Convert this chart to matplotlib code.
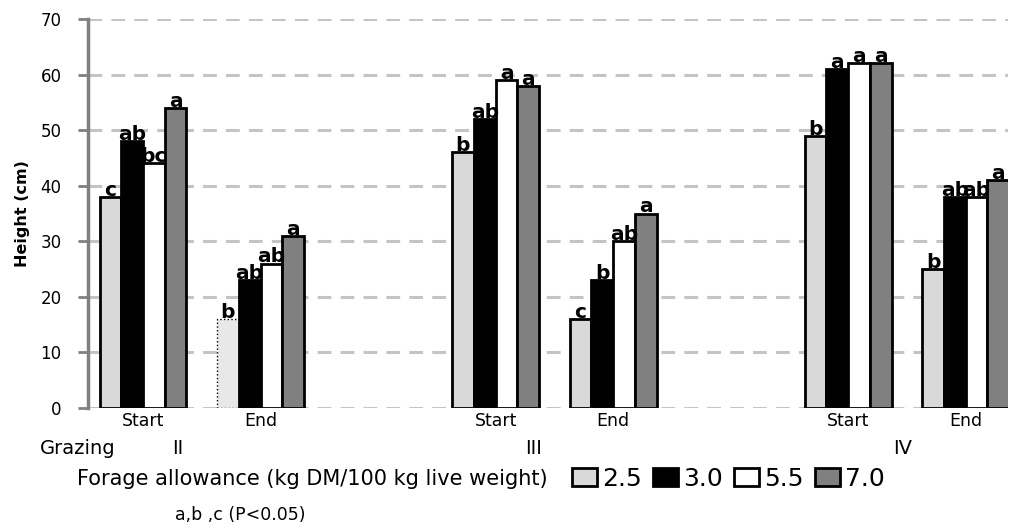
import matplotlib
matplotlib.use("Agg")
import matplotlib.pyplot as plt
from matplotlib.patches import Patch
import numpy as np

plt.rcParams['font.family'] = ['DejaVu Sans']

# ---- data ----
periods = ["Start", "End", "Start", "End", "Start", "End"]
grazings = ["II", "III", "IV"]
allowances = ["2.5", "3.0", "5.5", "7.0"]
h_25 = [38, 16, 46, 16, 49, 25]
h_30 = [48, 23, 52, 23, 61, 38]
h_55 = [44, 26, 59, 30, 62, 38]
h_70 = [54, 31, 58, 35, 62, 41]
lab_25 = ["c", "b", "b", "c", "b", "b"]
lab_30 = ["ab", "ab", "ab", "b", "a", "ab"]
lab_55 = ["bc", "ab", "a", "ab", "a", "ab"]
lab_70 = ["a", "a", "a", "a", "a", "a"]
yticks = [0, 10, 20, 30, 40, 50, 60, 70]

series = [h_25, h_30, h_55, h_70]
labels = [lab_25, lab_30, lab_55, lab_70]
colors = ["#d9d9d9", "#000000", "#ffffff", "#808080"]

fig = plt.figure(figsize=(10.10, 5.31), dpi=100)
ax = fig.add_axes([88/1010, 1-408/531, (1008-88)/1010, (408-19)/531])

xpos = np.array([0, 1, 3, 4, 6, 7], dtype=float)
bw = 0.185
offsets = (np.arange(4) - 1.5) * bw

for si, (vals, labs, col) in enumerate(zip(series, labels, colors)):
    for j, (x, v, lab) in enumerate(zip(xpos, vals, labs)):
        xc = x + offsets[si]
        if si == 0 and j == 1:
            ax.bar(xc, v, width=bw, color="#e8e8e8", edgecolor="black",
                   linewidth=1.0, linestyle=":", zorder=3)
        else:
            ax.bar(xc, v, width=bw, color=col, edgecolor="black",
                   linewidth=2.0, zorder=3)
        ax.text(xc, v + 0.2, lab, ha="center", va="baseline",
                fontsize=14.5, fontweight="bold", zorder=4)

ax.set_ylim(0, 70)
ax.set_xlim(-0.468, 7.36)
ax.set_yticks(yticks)
ax.yaxis.grid(True, linestyle=(0, (4.5, 3)), color="#c4c4c4", linewidth=2.2, zorder=0)
ax.set_axisbelow(True)
for s in ["top", "right", "bottom"]:
    ax.spines[s].set_visible(False)
ax.spines["left"].set_color("#808080")
ax.spines["left"].set_linewidth(2.5)
ax.tick_params(axis="y", colors="#808080", length=7, width=2, labelsize=12,
               labelcolor="black", pad=12)
ax.set_xticks(xpos)
ax.set_xticklabels(periods, fontsize=12.5)
ax.tick_params(axis="x", length=0, pad=3)
ax.set_ylabel("Height (cm)", fontsize=11.5, fontweight="bold")
ax.yaxis.set_label_coords(-0.063, 0.5)

# Grazing row
fig.text(40/1010, 1-448/531, "Grazing", fontsize=14, ha="left", va="center")
for g, px in zip(grazings, [178, 534, 903]):
    fig.text(px/1010, 1-448/531, g, fontsize=14, ha="center", va="center")

fig.text(77/1010, 1-479/531, "Forage allowance (kg DM/100 kg live weight)",
         fontsize=15, ha="left", va="center")

handles = [Patch(facecolor=c, edgecolor="black", linewidth=2) for c in colors]
fig.legend(handles, allowances, loc="center left",
           bbox_to_anchor=(572/1010, 1-479/531), ncol=4, frameon=False,
           fontsize=18, handlelength=1.0, handleheight=0.72,
           handletextpad=0.2, columnspacing=0.45, borderaxespad=0,
           borderpad=0)

fig.text(175/1010, 1-515/531, "a,b ,c (P<0.05)", fontsize=12.5,
         ha="left", va="center")

fig.savefig("out.png", dpi=100)
